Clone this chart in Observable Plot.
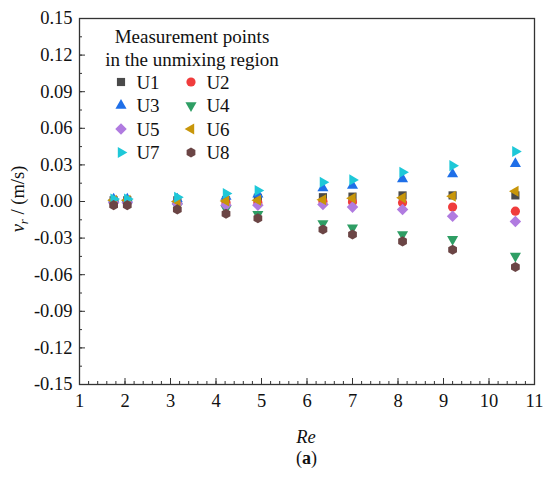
<!DOCTYPE html>
<html>
<head>
<meta charset="utf-8">
<script src="https://cdn.jsdelivr.net/npm/d3@7"></script>
<script src="https://cdn.jsdelivr.net/npm/@observablehq/plot@0.6"></script>
<style>
  body { margin: 0; background: #fff; }
  svg, svg text, svg tspan { font-family: "Liberation Serif", "Times New Roman", serif !important; }
  #cap { margin-left: 79px; width: 455px; text-align: center; font-family: "Liberation Serif", serif; font-size: 18px; line-height: 20px; color: #111; }
</style>
</head>
<body>
<div id="chart"></div>
<div id="cap">(<b>a</b>)</div>
<script>
// ---- data ----
const Re = [1.75, 2.05, 3.15, 4.22, 4.92, 6.35, 7.0, 8.1, 9.2, 10.58];
const U1 = [0.001, 0.001, 0.001, 0.001, 0.003, 0.0035, 0.004, 0.005, 0.005, 0.005];
const U2 = [0.0, 0.0, -0.001, -0.001, -0.001, 0.0, -0.0005, -0.001, -0.0046, -0.0079];
const U3 = [0.002, 0.002, 0.002, 0.004, 0.006, 0.011, 0.013, 0.0185, 0.0225, 0.031];
const U4 = [-0.001, -0.001, -0.004, -0.006, -0.0105, -0.018, -0.0215, -0.027, -0.031, -0.0447];
const U5 = [-0.001, -0.001, -0.002, -0.003, -0.003, -0.0025, -0.0046, -0.0065, -0.012, -0.0164];
const U6 = [0.001, 0.001, 0.0, 0.0005, 0.001, 0.0014, 0.0027, 0.003, 0.0043, 0.0084];
const U7 = [0.002, 0.002, 0.0035, 0.0065, 0.009, 0.0158, 0.0177, 0.024, 0.0294, 0.041];
const U8 = [-0.003, -0.003, -0.0065, -0.01, -0.0137, -0.023, -0.027, -0.0327, -0.0395, -0.0537];
const seriesNames = ["U1", "U2", "U3", "U4", "U5", "U6", "U7", "U8"];
const seriesValues = [U1, U2, U3, U4, U5, U6, U7, U8];
const xTicks = [1, 2, 3, 4, 5, 6, 7, 8, 9, 10, 11];
const yTicks = [-0.15, -0.12, -0.09, -0.06, -0.03, 0.00, 0.03, 0.06, 0.09, 0.12, 0.15];
const legendTitle = ["Measurement points", "in the unmixing region"];

// ---- styles ----
const colors = ["#4a4a4a", "#f03c3c", "#1f6fe8", "#2e9e64", "#b07be0", "#c8960a", "#1ec8d8", "#6b4545"];
function poly(n, startDeg, radiusFromSize) {
  return { draw(ctx, size) {
    const R = radiusFromSize(size);
    for (let k = 0; k < n; k++) {
      const a = (startDeg + k * 360 / n) * Math.PI / 180;
      const px = R * Math.cos(a), py = R * Math.sin(a);
      if (k === 0) ctx.moveTo(px, py); else ctx.lineTo(px, py);
    }
    ctx.closePath();
  }};
}
const triR = s => { const side = Math.sqrt(4 * s * 0.8 / Math.sqrt(3)); return side / Math.sqrt(3); };
const symSquare = { draw(ctx, size) { const h = Math.sqrt(size) / 2; ctx.rect(-h, -h, 2 * h, 2 * h); } };
const symCircle = { draw(ctx, size) { const r = Math.sqrt(size / Math.PI); ctx.moveTo(r, 0); ctx.arc(0, 0, r, 0, 2 * Math.PI); } };
const symUp = poly(3, -90, triR);
const symDown = poly(3, 90, triR);
const symLeft = poly(3, 180, triR);
const symRight = poly(3, 0, triR);
const symDiamond = poly(4, -90, s => Math.sqrt(s / 2));
const symHex = poly(6, -90, s => Math.sqrt(2 * s / (3 * Math.sqrt(3))));
const symbols = [symSquare, symCircle, symUp, symDown, symDiamond, symLeft, symRight, symHex];

const rows = [];
seriesNames.forEach((name, i) => Re.forEach((re, j) => rows.push({ name, Re: re, v: seriesValues[i][j] })));

const minorX = d3.range(1, 11.0001, 0.2).map(d => +d.toFixed(2));
const minorY = d3.range(-0.15, 0.1501, 0.015).map(d => +d.toFixed(3));
const font = "Liberation Serif, Times New Roman, serif";

const plot = Plot.plot({
  width: 550, height: 448,
  marginTop: 18, marginLeft: 79, marginRight: 16, marginBottom: 64,
  style: { fontFamily: font, fontSize: "18.5px", color: "#111", background: "white", overflow: "visible" },
  x: { domain: [1, 11] },
  y: { domain: [-0.15, 0.15] },
  symbol: { domain: seriesNames, range: symbols },
  color: { domain: seriesNames, range: colors },
  marks: [
    Plot.axisX({ ticks: xTicks, tickSize: 0, tickPadding: 9, label: null, tickFormat: d => String(d) }),
    Plot.axisX({ ticks: xTicks, tickSize: -6, text: null, label: null, stroke: "#333" }),
    Plot.axisX({ ticks: minorX, tickSize: -3, text: null, label: null, stroke: "#333" }),
    Plot.axisY({ ticks: yTicks, tickSize: 0, tickPadding: 7, label: null, tickFormat: d => d.toFixed(2) }),
    Plot.axisY({ ticks: yTicks, tickSize: -6, text: null, label: null, stroke: "#333" }),
    Plot.axisY({ ticks: minorY, tickSize: -3, text: null, label: null, stroke: "#333" }),
    Plot.frame({ stroke: "#333", strokeWidth: 1.3 }),
    Plot.dot(rows, { x: "Re", y: "v", symbol: "name", fill: "name", r: 4.6 })
  ]
});

const svg = d3.select(plot);
// y label
const yl = svg.append("text")
  .attr("transform", "translate(24,199) rotate(-90)")
  .attr("text-anchor", "middle")
  .attr("font-size", 18.5).attr("fill", "#111");
yl.append("tspan").attr("font-style", "italic").text("v");
yl.append("tspan").attr("font-style", "italic").attr("font-size", 13).attr("dy", 4).text("r");
yl.append("tspan").attr("dy", -4).text(" / (m/s)");
// x label
svg.append("text").attr("x", 306).attr("y", 443).attr("text-anchor", "middle")
  .attr("font-size", 18.5).attr("font-style", "italic").attr("fill", "#111").text("Re");

// legend
const lg = svg.append("g").attr("font-size", 19).attr("fill", "#111");
legendTitle.forEach((t, i) => lg.append("text").attr("x", 192).attr("y", 43 + i * 23).attr("text-anchor", "middle").text(t));
seriesNames.forEach((name, i) => {
  const col = i % 2, row = Math.floor(i / 2);
  const sx = 121 + col * 70, sy = 82 + row * 23.5;
  const p = d3.path();
  symbols[i].draw(p, 4.6 * 4.6 * Math.PI);
  lg.append("path").attr("d", p.toString()).attr("transform", `translate(${sx},${sy})`).attr("fill", colors[i]);
  lg.append("text").attr("x", sx + 27).attr("y", sy + 6.5).text(name);
});

document.getElementById("chart").appendChild(plot);
</script>
</body>
</html>
